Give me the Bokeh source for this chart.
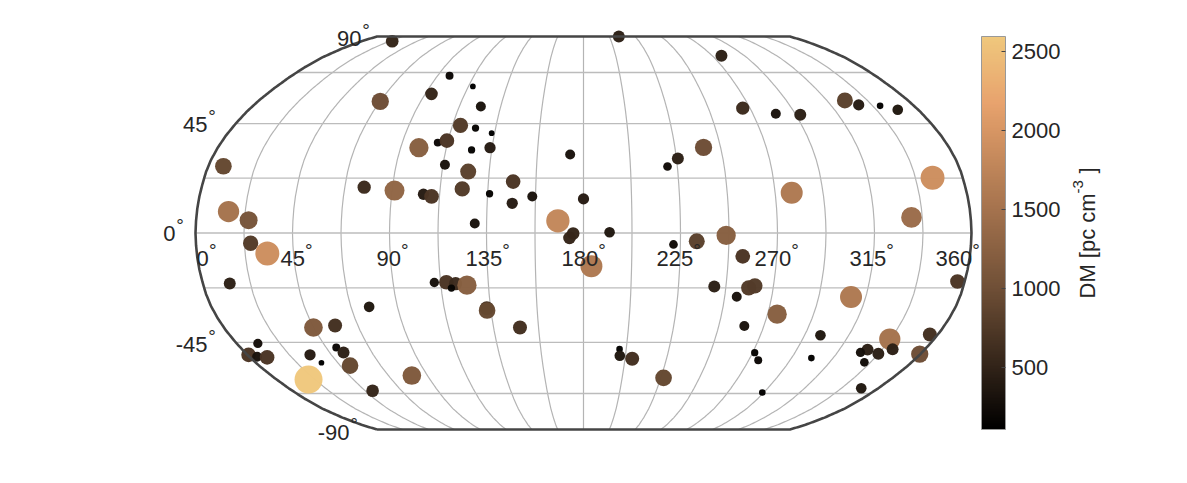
import numpy as np
from bokeh.plotting import figure
from bokeh.models import (ColumnDataSource, LinearColorMapper, ColorBar, FixedTicker,
                          Label, Range1d)
from bokeh.embed import file_html
from bokeh.resources import INLINE

lon = [24.9,67.6,97.4,115.1,93.5,124.2,116.6,124.7,133.5,107.6,111.9,99,125.1,134,113.4,125,7.2,146.7,122.9,76.6,
       91.1,104.9,108.8,135.9,146.7,156,129.5,14.7,24.4,25.4,32.8,12.7,109.5,115.2,119.5,117.3,124.8,133.1,133.1,76.3,
       44.8,56.1,148.2,11,0.7,4.2,9.2,33.6,50.3,52.4,36,50.5,18.7,81,49.5,210.8,276.4,266.1,239.1,225.7,
       220.3,173.5,180,168.1,175.2,173.5,192.1,221.8,232.6,246.2,183.7,254.2,242,253.3,258.4,261.2,260.3,199,199.5,206.4,
       226.6,271.1,275.2,291.6,325,330.4,341.6,349,282.2,294.9,345.7,277.8,332.5,356.6,308,274.7,300.6,356,337.3,343,
       329.9,327.3,337.3,359.6,303.3,334.1,349.6]
lat = [85,54.4,65.9,61,57.7,52.2,44.2,43.1,41,37.1,37.9,35,34.1,35,28,25.2,27.4,21.1,18.1,18.8,
       17.4,15.9,15,16.1,12.2,15,3.9,8.8,5.25,-4.2,-8.4,-20.7,-20.3,-20.2,-20.8,-22.6,-21.4,-30.9,-31.8,-30.3,
       -38.8,-38,-38.8,-45.4,-50.2,-51,-51.3,-50.2,-47.1,-49.2,-53.6,-54.8,-61,-59.2,-66.2,90,75.9,51.5,35.1,30.6,
       27.3,32.2,14,5,-0.2,-2,0.3,-4.7,-3.4,-1,-13.6,-9.6,-22,-26.2,-22.5,-21.7,-38.2,-47.8,-50.6,-51.9,
       -60.2,-49.3,-52.5,-67,54.8,52.9,52.5,50.8,49.1,48.7,22.7,16.5,6.4,-19.9,-26.3,-33.3,-42,-41.7,-43.6,-47.9,
       -48,-49.2,-49.7,-49.9,-51.6,-53.4,-65]
dm = [530,990,210,108,530,330,770,176,108,210,710,1230,176,420,330,845,920,710,775,585,
      1320,420,710,176,420,330,330,1500,1070,775,1900,475,290,710,585,176,1230,650,920,375,
      1150,650,650,285,710,330,710,420,210,475,108,920,2590,1150,530,475,475,585,990,475,
      250,330,420,1800,530,530,375,250,845,1230,1600,710,475,330,775,775,330,145,375,650,
      920,176,210,145,845,420,145,375,330,475,1900,1600,1410,710,1600,1230,375,650,1500,475,
      475,285,475,990,145,250,375]

cbar_ticks = [500, 1000, 1500, 2000, 2500]
lon_ticks = ["0", "45", "90", "135", "180", "225", "270", "315", "360"]
lat_ticks = ["90", "45", "0", "-45", "-90"]

# Robinson projection table
R_LAT = np.arange(0, 95, 5)
R_PLEN = np.array([1,.9986,.9954,.99,.9822,.973,.96,.9427,.9216,.8962,.8679,.835,.7986,.7597,.7186,.6732,.6213,.5722,.5322])
R_PDFE = np.array([0,.062,.124,.186,.248,.31,.372,.434,.4958,.5571,.6176,.6769,.7346,.7903,.8435,.8936,.9394,.9761,1])

def project(lo, la):
    lo = np.asarray(lo, float); la = np.asarray(la, float)
    pl = np.interp(np.abs(la), R_LAT, R_PLEN)
    pd = np.interp(np.abs(la), R_LAT, R_PDFE)
    return pl * (lo - 180) / 180, np.sign(la) * pd

# page geometry
W, H = 1171, 467
CX, HX = 583.0, 388.0
CY, HY = 232.5, 196.5
p = figure(width=W, height=H, output_backend="svg", toolbar_location=None,
           x_axis_type=None, y_axis_type=None, min_border=0,
           x_range=Range1d((0 - CX) / HX, (W - CX) / HX),
           y_range=Range1d((CY - H) / HY, CY / HY))
p.outline_line_color = None
p.grid.visible = False
p.background_fill_color = "white"

# colormap
N = 256
xs = np.linspace(0, 1, N)
stops = [0, .158, .359, .56, .76, .83, 1]
R = [0, 50, 112, 165, 215, 232, 240]
G = [0, 36, 80, 115, 150, 163, 200]
B = [0, 25, 55, 78, 100, 110, 125]
palette = ["#%02x%02x%02x" % (int(np.interp(x, stops, R)), int(np.interp(x, stops, G)), int(np.interp(x, stops, B))) for x in xs]
mapper = LinearColorMapper(palette=palette, low=108, high=2595)

# graticule
la_s = np.arange(-90, 90.5, 0.5)
for m in np.arange(0, 360.1, 22.5):
    if m in (0, 360):
        continue
    gx, gy = project(np.full_like(la_s, m), la_s)
    p.line(gx, gy, line_color="#b4b4b4", line_width=1.2)
for par in np.arange(-67.5, 67.6, 22.5):
    gx, gy = project([0, 360], [par, par])
    p.line(gx, gy, line_color="#bcbcbc", line_width=1.3)

# scatter
mx, my = project(lon, lat)
src = ColumnDataSource(dict(x=mx, y=my, dm=dm, s=np.sqrt(np.array(dm, float)) * 0.55))
p.scatter("x", "y", size="s", source=src, line_color=None, fill_alpha=0.98,
          fill_color={"field": "dm", "transform": mapper})

bx1, by1 = project(np.zeros_like(la_s), la_s)
bx2, by2 = project(np.full_like(la_s, 360), la_s[::-1])
p.line(np.r_[bx1, bx2, bx1[0]], np.r_[by1, by2, by1[0]], line_color="#454545", line_width=2.6)

FONT = "Liberation Sans"
TXT = "#262626"
def lab(text, px, py, size="22px", align="left", angle=0):
    p.add_layout(Label(x=px, y=H - py, x_units="screen", y_units="screen", text=text,
                       text_font=FONT, text_font_size=size, text_color=TXT, text_align=align,
                       text_baseline="middle", angle=angle))

lon_x = [196, 280, 376, 465, 561, 656, 754, 849, 935]
for t, px in zip(lon_ticks, lon_x):
    lab(t, px, 258)
    wid = 12.2 * len(t)
    lab("°", px + wid + 4, 250, size="19px", align="center")
lat_r = [361, 207, 175, 207, 349]
lat_y = [38, 124, 233, 344, 432]
for t, r, y in zip(lat_ticks, lat_r, lat_y):
    lab(t, r, y, align="right")
    lab("°", r + 4.5, y - 8, size="19px", align="center")

# colour bar
cb = ColorBar(color_mapper=mapper, ticker=FixedTicker(ticks=cbar_ticks), width=24, height=393,
              location=(981, H - 429), padding=0, margin=0, label_standoff=6,
              major_label_text_font=FONT, major_label_text_font_size="22px", major_label_text_color=TXT,
              major_tick_line_color="#444444", major_tick_in=4, minor_tick_line_color=None,
              bar_line_color="#999999", border_line_color=None, background_fill_color=None)
p.add_layout(cb, "center")

lab("DM [pc cm", 1087, 298, angle=np.pi / 2)
lab("-3", 1077, 193, size="15px", angle=np.pi / 2)
lab("]", 1087, 173, angle=np.pi / 2)

open("out.html", "w").write(file_html(p, INLINE))
